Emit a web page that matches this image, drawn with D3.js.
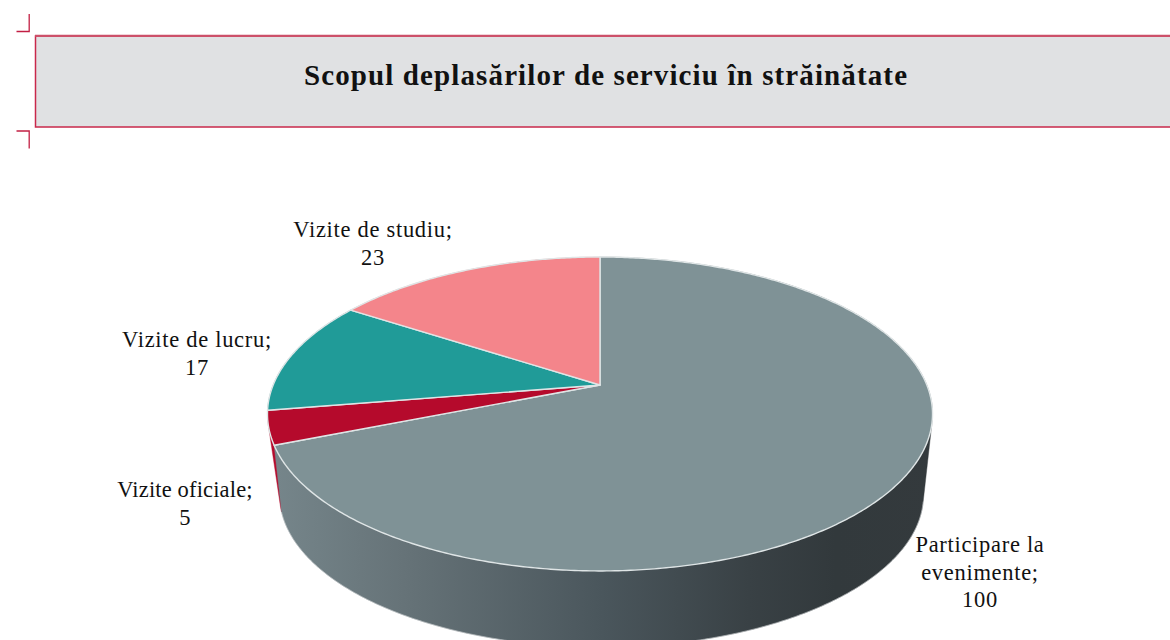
<!DOCTYPE html>
<html><head><meta charset="utf-8">
<script src="https://cdn.jsdelivr.net/npm/d3@7"></script>
<style>html,body{margin:0;padding:0;background:#fff;overflow:hidden}svg{display:block}text{font-family:"Liberation Serif",serif;fill:#111}</style>
</head><body><svg id="c" width="1170" height="640"></svg>
<script>
const titleText = "Scopul deplasărilor de serviciu în străinătate";
const categories = ["Participare la evenimente", "Vizite oficiale", "Vizite de lucru", "Vizite de studiu"];
const values = [100, 5, 17, 23];
const colors = ["#7f9296", "#b50a2c", "#209b98", "#f4858b"];
const labelLines = [["Participare la", "evenimente;"], ["Vizite oficiale;"], ["Vizite de lucru;"], ["Vizite de studiu;"]];

// layout
const labelPos = [[980, 552], [185, 497], [197, 347], [373, 237]];
const labelSpacing = [0.7, 0.15, 0.7, 0.7];
const lineStep = 27.5;
const topPlane = {cx: 600, cy: 385, A: 326.8, B: 151.6, k: 0.1847};
const botPlane = {cx: 601.5, cy: 454, A: 310, B: 141, k: 0.27};

const svg = d3.select("#c");
const defs = svg.append("defs");
const grad = defs.append("linearGradient").attr("id", "side").attr("gradientUnits", "userSpaceOnUse")
  .attr("x1", 270).attr("x2", 935).attr("y1", 0).attr("y2", 0);
[[0, "#76868b"], [0.2, "#667378"], [0.5, "#4a565c"], [0.72, "#394145"], [0.85, "#32393c"], [1, "#343a3d"]]
  .forEach(s => grad.append("stop").attr("offset", s[0]).attr("stop-color", s[1]));

// header
svg.append("rect").attr("x", 35.5).attr("y", 36).attr("width", 1200).attr("height", 91)
  .attr("fill", "#e0e1e3").attr("stroke", "#c9284b").attr("stroke-width", 1.5);
svg.append("line").attr("x1", 35).attr("x2", 1170).attr("y1", 35.8).attr("y2", 35.8)
  .attr("stroke", "#cc5069").attr("stroke-width", 2);
const mark = "#c21f43";
svg.append("path").attr("d", "M16.5 31.5H29.2V14").attr("fill", "none").attr("stroke", mark).attr("stroke-width", 1.3);
svg.append("path").attr("d", "M16.5 131H29.2V148.5").attr("fill", "none").attr("stroke", mark).attr("stroke-width", 1.3);
svg.append("text").attr("x", 605.5).attr("y", 85).attr("text-anchor", "middle")
  .attr("font-size", 29).attr("font-weight", "bold").attr("textLength", 603).attr("lengthAdjust", "spacing").text(titleText);

// pie
const project = (a, p) => {
  const u = Math.sin(a), v = -Math.cos(a), w = 1 - p.k * v;
  return [p.cx + p.A * u / w, p.cy + p.B * v / w];
};
const samples = (a0, a1) => {
  const n = Math.max(2, Math.ceil((a1 - a0) / 0.01));
  return d3.range(n + 1).map(i => a0 + (a1 - a0) * i / n);
};
const line = d3.line();
const arcs = d3.pie().sort(null)(values);

// side wall: back to front, each slice as the hull of its two rims
arcs.map((d, i) => i).reverse().forEach(i => {
  const d = arcs[i];
  const t = samples(d.startAngle, d.endAngle);
  const hull = d3.polygonHull(t.map(a => project(a, topPlane)).concat(t.map(a => project(a, botPlane))));
  svg.append("path").attr("d", line(hull) + "Z")
    .attr("fill", i === 0 ? "url(#side)" : colors[i])
    .attr("stroke", i === 0 ? "url(#side)" : colors[i]).attr("stroke-width", 0.4);
});

// soft rim under the wall
const rim = samples(Math.PI * 0.6, arcs[0].endAngle).map(a => project(a, botPlane));
svg.append("path").attr("d", line(rim)).attr("fill", "none").attr("stroke", "#c9cdcf").attr("stroke-width", 0.8).attr("opacity", 0.7);

// top face
arcs.forEach((d, i) => {
  const pts = [[topPlane.cx, topPlane.cy]].concat(samples(d.startAngle, d.endAngle).map(a => project(a, topPlane)));
  svg.append("path").attr("d", line(pts) + "Z").attr("fill", colors[i])
    .attr("stroke", "#dfe5e6").attr("stroke-width", 1.4).attr("stroke-linejoin", "round");
});

// labels
arcs.forEach((d, i) => {
  const g = svg.append("g").attr("font-size", 22.5).attr("text-anchor", "middle");
  labelLines[i].concat([String(values[i])]).forEach((s, j) => {
    g.append("text").attr("x", labelPos[i][0]).attr("y", labelPos[i][1] + j * lineStep)
      .attr("letter-spacing", labelSpacing[i]).text(s);
  });
});
</script></body></html>
